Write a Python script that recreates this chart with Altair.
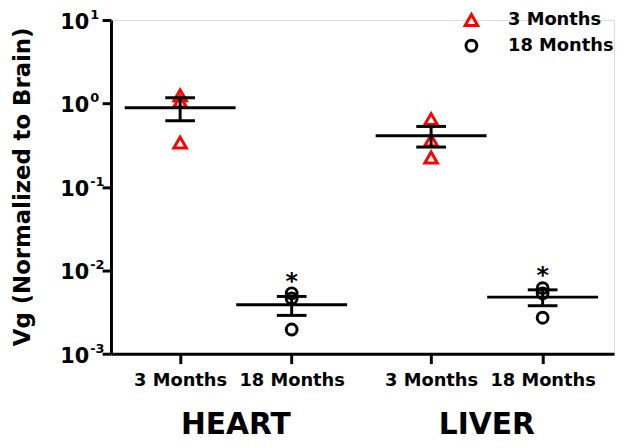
import altair as alt
import pandas as pd

# ---- values ----
organs = ["HEART", "HEART", "LIVER", "LIVER"]
ages = ["3 Months", "18 Months", "3 Months", "18 Months"]
means = [0.89, 0.00386, 0.41, 0.00477]
sem_low = [0.62, 0.00288, 0.30, 0.00376]
sem_high = [1.17, 0.00486, 0.53, 0.00583]

heart_3m = [1.25, 1.05, 0.34]
heart_18m = [0.0053, 0.0046, 0.00195]
liver_3m = [0.65, 0.36, 0.225]
liver_18m = [0.0061, 0.0053, 0.0027]

star_organs = ["HEART", "LIVER"]
star_ages = ["18 Months", "18 Months"]
star_values = [0.0086, 0.0101]

y_ticks = [10, 1, 0.1, 0.01, 0.001]
y_exponents = ["1", "0", "-1", "-2", "-3"]
age_order = ["3 Months", "18 Months"]

# ---- layout: slot of each organ/age group on the x axis ----
SLOT = {("HEART", "3 Months"): 1.0, ("HEART", "18 Months"): 2.0,
        ("LIVER", "3 Months"): 3.25, ("LIVER", "18 Months"): 4.25}

FONT = "DejaVu Sans"

pts_rows = []
for organ, age, vals in [("HEART", "3 Months", heart_3m), ("HEART", "18 Months", heart_18m),
                         ("LIVER", "3 Months", liver_3m), ("LIVER", "18 Months", liver_18m)]:
    for v in vals:
        pts_rows.append({"organ": organ, "age": age, "value": v, "slot": SLOT[(organ, age)]})
pts = pd.DataFrame(pts_rows)

summ = pd.DataFrame({"organ": organs, "age": ages, "mean": means, "lo": sem_low, "hi": sem_high})
summ["slot"] = [SLOT[(o, a)] for o, a in zip(organs, ages)]

stars = pd.DataFrame({"organ": star_organs, "age": star_ages, "value": star_values})
stars["slot"] = [SLOT[(o, a)] for o, a in zip(star_organs, star_ages)]

grp = pd.DataFrame({"organ": ["HEART", "LIVER"]})
grp["slot"] = [(SLOT[(o, "3 Months")] + SLOT[(o, "18 Months")]) / 2 for o in grp["organ"]]

ylab = pd.DataFrame({"value": y_ticks, "exp": y_exponents})

xscale = alt.Scale(domain=[0.38, 4.89], nice=False, zero=False)
yscale = alt.Scale(type="log", domain=[0.001, 10], nice=False)

xaxis = alt.Axis(values=list(SLOT.values()),
                 labelExpr="(datum.value == 1 || datum.value == 3.25) ? '3 Months' : '18 Months'",
                 domainColor="black", domainWidth=3, tickColor="black", tickWidth=3, tickSize=10,
                 labelFont=FONT, labelFontWeight="bold", labelFontSize=18, labelColor="black",
                 labelPadding=8, grid=False, title=None, labelFlush=False, labelOverlap=False)
yaxis = alt.Axis(values=y_ticks, labels=False, domainColor="black", domainWidth=3,
                 tickColor="black", tickWidth=3, tickSize=9, grid=False,
                 title="Vg (Normalized to Brain)", titleFont=FONT, titleFontWeight="bold",
                 titleFontSize=23, titleColor="black", titleX=-89, titleY=168, titleAngle=270,
                 titleAlign="center", titleBaseline="middle")

legend = alt.Legend(orient="none", legendX=355, legendY=-9, title=None, labelFont=FONT,
                    labelFontWeight="bold", labelFontSize=18, labelColor="black",
                    symbolSize=110, symbolStrokeWidth=3, labelOffset=28, rowPadding=2, padding=0)

points = alt.Chart(pts).mark_point(filled=False, strokeWidth=3, opacity=1).encode(
    x=alt.X("slot:Q", scale=xscale, axis=xaxis),
    y=alt.Y("value:Q", scale=yscale, axis=yaxis),
    color=alt.Color("age:N", scale=alt.Scale(domain=age_order, range=["#ff0000", "black"]), legend=legend),
    shape=alt.Shape("age:N", scale=alt.Scale(domain=age_order, range=["triangle-up", "circle"]), legend=legend),
    size=alt.Size("age:N", scale=alt.Scale(domain=age_order, range=[160, 120]), legend=None),
)

sbase = alt.Chart(summ)
vbar = sbase.mark_rule(color="black", strokeWidth=3).encode(
    x="slot:Q", y="lo:Q", y2="hi:Q")
cap_lo = sbase.mark_tick(orient="horizontal", size=30, thickness=3, color="black", opacity=1).encode(
    x="slot:Q", y="lo:Q")
cap_hi = sbase.mark_tick(orient="horizontal", size=30, thickness=3, color="black", opacity=1).encode(
    x="slot:Q", y="hi:Q")
mean_line = sbase.mark_tick(orient="horizontal", size=112, thickness=3, color="black", opacity=1).encode(
    x="slot:Q", y="mean:Q")

star = alt.Chart(stars).mark_text(text="*", font=FONT, fontWeight="bold", fontSize=24,
                                  color="black", baseline="alphabetic", dy=13).encode(
    x="slot:Q", y="value:Q")

grp_text = alt.Chart(grp).mark_text(font=FONT, fontWeight="bold", fontSize=30, color="black",
                                    baseline="alphabetic", align="center").encode(
    x="slot:Q", y=alt.value(418), text="organ:N")

ten = alt.Chart(ylab).mark_text(text="10", font=FONT, fontWeight="bold", fontSize=21, color="black",
                                align="right", baseline="middle", dy=3).encode(
    x=alt.value(-22), y="value:Q")
sup = alt.Chart(ylab).mark_text(font=FONT, fontWeight="bold", fontSize=13, color="black",
                                align="left", baseline="middle", dy=-5).encode(
    x=alt.value(-21), y="value:Q", text="exp:N")

chart = alt.layer(points, vbar, cap_lo, cap_hi, mean_line, star, grp_text, ten, sup).properties(
    width=508, height=337,
    autosize=alt.AutoSizeParams(type="none"),
    padding={"left": 104, "top": 10, "right": 2, "bottom": 85},
).configure_view(stroke=None).configure(background="white")

chart.save("out.html", embed_options={"renderer": "svg", "actions": False})
